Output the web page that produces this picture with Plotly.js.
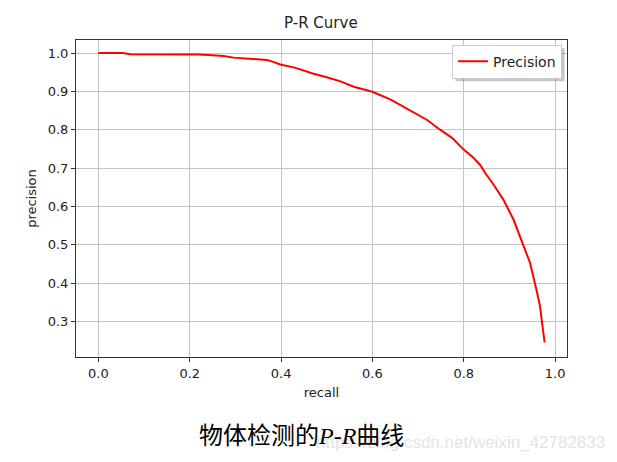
<!DOCTYPE html>
<html>
<head>
<meta charset="utf-8">
<script src="https://cdn.plot.ly/plotly-3.0.1.min.js"></script>
<style>
html,body{margin:0;padding:0;background:#fff;}
#chart{width:617px;height:462px;}
</style>
</head>
<body>
<div id="chart"></div>
<script>
const recall = [0, 0.054, 0.07, 0.15, 0.2, 0.22, 0.25, 0.274, 0.296, 0.325, 0.369, 0.383, 0.398, 0.43, 0.471, 0.50, 0.53, 0.559, 0.60, 0.639, 0.665, 0.69, 0.719, 0.748, 0.775, 0.798, 0.82, 0.836, 0.847, 0.865, 0.887, 0.909, 0.927, 0.945, 0.96, 0.967, 0.972, 0.977];
const precision = [1.0, 1.0, 0.997, 0.997, 0.997, 0.996, 0.994, 0.992, 0.988, 0.985, 0.982, 0.977, 0.970, 0.962, 0.946, 0.937, 0.926, 0.912, 0.899, 0.879, 0.862, 0.845, 0.826, 0.800, 0.778, 0.750, 0.728, 0.708, 0.687, 0.657, 0.617, 0.565, 0.508, 0.453, 0.378, 0.339, 0.290, 0.245];
const xTicks = [0, 0.2, 0.4, 0.6, 0.8, 1.0];
const yTicks = [0.3, 0.4, 0.5, 0.6, 0.7, 0.8, 0.9, 1.0];
const seriesName = "Precision";
const chartTitle = "P-R Curve";
const xLabel = "recall";
const yLabel = "precision";
const caption = "物体检测的<i>P-R</i>曲线";
const watermark = "https://blog.csdn.net/weixin_42782833";

const font = "DejaVu Sans, sans-serif";
const trace = {
  x: recall, y: precision, type: "scatter", mode: "lines", name: seriesName,
  line: {color: "#ff0000", width: 2}
};
const axisCommon = {
  showline: true, mirror: true, linecolor: "#333", linewidth: 1,
  ticks: "outside", ticklen: 4, tickcolor: "#333",
  showgrid: true, gridcolor: "#c4c4c4", gridwidth: 1, zeroline: false,
  tickfont: {family: font, size: 13, color: "#222"}, tickformat: ".1f"
};
const layout = {
  width: 617, height: 462,
  margin: {l: 76, r: 50, t: 40, b: 105},
  paper_bgcolor: "#fff", plot_bgcolor: "#fff",
  title: {text: chartTitle, font: {family: font, size: 15, color: "#222"}, x: 0.52, xanchor: "center", y: 0.95, yanchor: "middle"},
  xaxis: Object.assign({}, axisCommon, {range: [-0.049, 1.026], tickvals: xTicks,
    title: {text: xLabel, font: {family: font, size: 13, color: "#222"}, standoff: 8}}),
  yaxis: Object.assign({}, axisCommon, {range: [0.207, 1.034], tickvals: yTicks,
    title: {text: yLabel, font: {family: font, size: 13, color: "#222"}, standoff: 8}}),
  showlegend: true,
  legend: {x: 0.99, xanchor: "right", y: 0.985, yanchor: "top", bgcolor: "#fff",
    bordercolor: "#cccccc", borderwidth: 1, itemwidth: 30, tracegroupgap: 0,
    font: {family: font, size: 14, color: "#222"}},
  annotations: [
    {text: watermark, xref: "paper", yref: "paper", x: 1.081, y: -0.271, xanchor: "right", yanchor: "middle",
     showarrow: false, font: {family: "Liberation Sans, Arial, sans-serif", size: 17, color: "#e4e4e4"}},
    {text: caption, xref: "paper", yref: "paper", x: 0.46, y: -0.249, xanchor: "center", yanchor: "middle",
     showarrow: false, font: {family: "Liberation Serif, Noto Sans CJK SC, serif", size: 24, color: "#000"}}
  ]
};
Plotly.newPlot("chart", [trace], layout, {displayModeBar: false, staticPlot: true}).then(function(gd){
  // add a drop shadow behind the legend box, matching its rendered size
  const bg = gd.querySelector(".legend .bg");
  const fl = gd._fullLayout;
  if (bg) {
    const r = bg.getBoundingClientRect();
    const c = gd.getBoundingClientRect();
    const px2x = function(p){ return (p - c.left - fl._size.l) / fl._size.w; };
    const px2y = function(p){ return 1 - (p - c.top - fl._size.t) / fl._size.h; };
    const off = 3;
    Plotly.relayout(gd, {shapes: [{type: "rect", xref: "paper", yref: "paper",
      x0: px2x(r.left + off), x1: px2x(r.right + off), y0: px2y(r.bottom + off), y1: px2y(r.top + off),
      line: {width: 0}, fillcolor: "rgba(0,0,0,0.22)", layer: "above"}]});
  }
});
</script>
</body>
</html>
